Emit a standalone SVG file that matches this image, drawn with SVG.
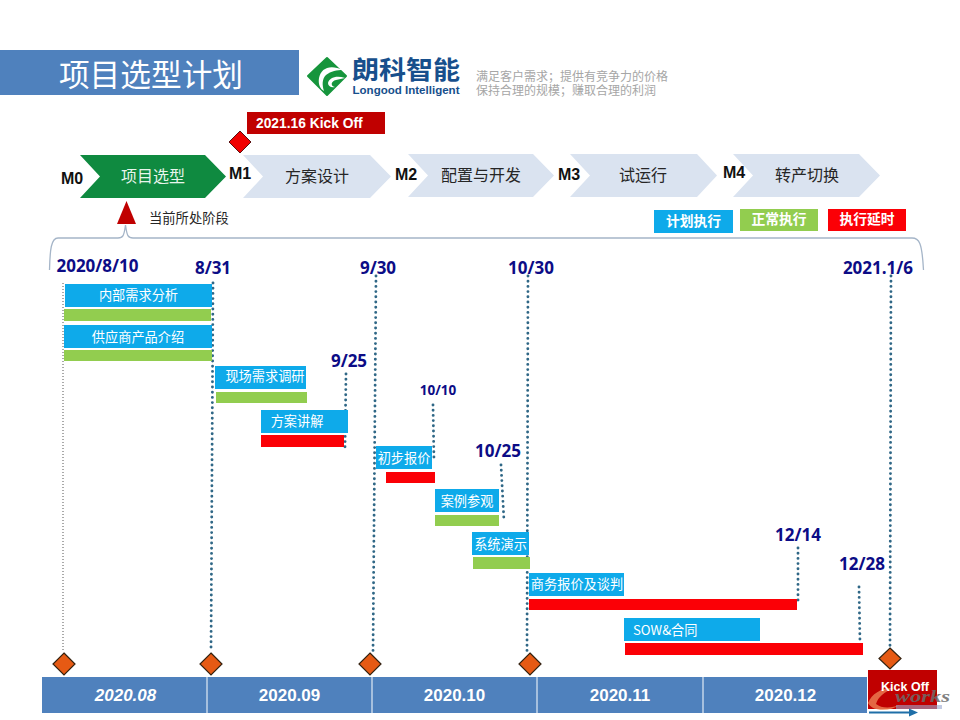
<svg xmlns="http://www.w3.org/2000/svg" width="960" height="720" viewBox="0 0 960 720">
<style>
text{font-family:"Liberation Sans","Noto Sans CJK SC",sans-serif}
.cn{font-family:"Noto Sans CJK SC","Liberation Sans",sans-serif}
.chev{fill:#dae3f0}
.ct{font-size:16px;fill:#262626;text-anchor:middle}
.m{font-size:16px;font-weight:700;fill:#111;text-anchor:middle}
.date{font-family:"Open Sans","Liberation Sans",sans-serif;font-weight:700;font-size:17px;fill:#0c0c86;text-anchor:middle}
.blue{fill:#0eaaea}
.green{fill:#92cd4f}
.red{fill:#fb0006}
.lbl{font-size:13.200px;fill:#fff;text-anchor:middle}
.dot{fill:none;stroke:#2f6786;stroke-width:2.900;stroke-linecap:round;stroke-dasharray:0 5.200}
.dia{fill:#e65a14;stroke:#33210f;stroke-width:1.200}
.mon{fill:#4f81bd}
.mt{font-size:17px;font-weight:700;fill:#fff;text-anchor:middle}
.leg{font-size:13.800px;font-weight:700;fill:#fff;text-anchor:middle}
</style>
<g id="header">
<rect x="0" y="50" width="299" height="45" fill="#4f81bd"/>
<text class="cn" x="151" y="86" font-size="30.700" fill="#fff" text-anchor="middle">项目选型计划</text>
</g>
<g id="logo">
<path d="M327 58L346 76L327 95L308 76Z" fill="#16953c" stroke="#16953c" stroke-width="2" stroke-linejoin="round"/>
<path d="M343 70C330 64 321 68 319 78C318 84 320 89 324 91C322 85 322 79 326 75C331 71 337 70 343 70ZM345 78C336 75 329 78 328 83C328 86 331 88 335 87C330 86 331 81 336 80C339 79 342 79 345 78Z" fill="#fff"/>
<text x="352" y="79" font-size="25" font-weight="700" fill="#174f8c" textLength="108" lengthAdjust="spacingAndGlyphs">朗科智能</text>
<text x="352.500" y="94" font-size="11.500" font-weight="700" fill="#174f8c" textLength="107" lengthAdjust="spacingAndGlyphs">Longood Intelligent</text>
</g>
<g id="slogan">
<text x="476" y="81" font-size="12" fill="#a6a6a6">满足客户需求；提供有竞争力的价格</text>
<text x="476" y="95" font-size="12" fill="#a6a6a6">保持合理的规模；赚取合理的利润</text>
</g>
<g id="kickoff-flag">
<rect x="247" y="112" width="138" height="22" fill="#c00000"/>
<text x="256" y="128" font-size="13.800" font-weight="700" fill="#fff">2021.16 Kick Off</text>
<path d="M240 131L251 142L240 153L229 142Z" fill="#f00000" stroke="#5a1010" stroke-width="1"/>
</g>
<g id="phase-m0">
<path d="M80 155H205L226 176.500L205 198H80L100 176.500Z" fill="#0f8a40"/>
<text class="cn" x="153" y="182" font-size="16" fill="#e8f5ec" text-anchor="middle">项目选型</text>
<text class="m" x="72" y="184">M0</text>
</g>
<g id="phase-m1">
<path class="chev" d="M243 155H370L391 176.500L370 198H243L263 176.500Z"/>
<text class="ct cn" x="317" y="182">方案设计</text>
<text class="m" x="240" y="179">M1</text>
</g>
<g id="phase-m2">
<path class="chev" d="M408 154H533L554 175.500L533 197H408L428 175.500Z"/>
<text class="ct cn" x="481" y="181">配置与开发</text>
<text class="m" x="406" y="180">M2</text>
</g>
<g id="phase-m3">
<path class="chev" d="M570 154H697L717 175.500L697 197H570L590 175.500Z"/>
<text class="ct cn" x="643" y="181">试运行</text>
<text class="m" x="569" y="180">M3</text>
</g>
<g id="phase-m4">
<path class="chev" d="M733 154H859L880 175.500L859 197H733L753 175.500Z"/>
<text class="ct cn" x="807" y="181">转产切换</text>
<text class="m" x="734" y="178">M4</text>
</g>
<g id="current-stage">
<path d="M126.500 201L136 224H117Z" fill="#c00000"/>
<text class="cn" x="149" y="223" font-size="13.300" fill="#262626">当前所处阶段</text>
</g>
<g id="legend">
<rect x="654" y="210" width="79" height="23" class="blue"/>
<text class="leg cn" x="693.500" y="226">计划执行</text>
<rect x="740" y="209" width="78" height="22" class="green"/>
<text class="leg cn" x="779" y="224">正常执行</text>
<rect x="828" y="209" width="78" height="22" class="red"/>
<text class="leg cn" x="867" y="224">执行延时</text>
</g>
<g id="connectors" fill="none">
<path d="M49.500 270C50 250 51 238 58 238H118C123 238 124 236 125.500 225C127 236 128 238 133 238H912C919 238 922 242 923.500 270" stroke="#a5b5c8" stroke-width="1.300"/>
<path d="M63 283V652" stroke="#555" stroke-width="1" stroke-dasharray="1 2"/>
<path class="dot" d="M213 283L211 652"/>
<path class="dot" d="M376 276L373 652"/>
<path class="dot" d="M528 276L527 652"/>
<path class="dot" d="M891 276L890 646"/>
<path class="dot" d="M346 374L345 447"/>
<path class="dot" d="M433 405L434 461"/>
<path class="dot" d="M501 465L504 521"/>
<path class="dot" d="M798 548L798 603"/>
<path class="dot" d="M859 587L860 643"/>
</g>
<g id="dates">
<text class="date" x="97.500" y="272">2020/8/10</text>
<text class="date" x="213" y="274">8/31</text>
<text class="date" x="378" y="274">9/30</text>
<text class="date" x="531" y="274">10/30</text>
<text class="date" x="878" y="274">2021.1/6</text>
<text class="date" x="349" y="367">9/25</text>
<text class="date" x="438" y="395" style="font-size:13.500px">10/10</text>
<text class="date" x="498" y="457">10/25</text>
<text class="date" x="798" y="541">12/14</text>
<text class="date" x="862" y="570">12/28</text>
</g>
<g id="task-1">
<rect x="65" y="284" width="147" height="23" class="blue"/>
<text class="lbl cn" x="138.500" y="300">内部需求分析</text>
<rect x="64" y="309" width="147" height="12" class="green"/>
</g>
<g id="task-2">
<rect x="64" y="325" width="148" height="23" class="blue"/>
<text class="lbl cn" x="138" y="342">供应商产品介绍</text>
<rect x="64" y="350" width="148" height="11" class="green"/>
</g>
<g id="task-3">
<rect x="215" y="366" width="91" height="23" class="blue"/>
<text class="lbl cn" x="265" y="381">现场需求调研</text>
<rect x="216" y="392" width="91" height="11" class="green"/>
</g>
<g id="task-4">
<rect x="261" y="410" width="87" height="23" class="blue"/>
<text class="lbl cn" x="297" y="426">方案讲解</text>
<rect x="261" y="435" width="83" height="12" class="red"/>
</g>
<g id="task-5">
<rect x="376" y="446" width="56" height="23" class="blue"/>
<text class="lbl cn" x="404" y="463">初步报价</text>
<rect x="386" y="472" width="49" height="11" class="red"/>
</g>
<g id="task-6">
<rect x="435" y="489" width="64" height="23" class="blue"/>
<text class="lbl cn" x="467" y="506">案例参观</text>
<rect x="435" y="515" width="64" height="11" class="green"/>
</g>
<g id="task-7">
<rect x="472" y="532" width="57" height="23" class="blue"/>
<text class="lbl cn" x="500.500" y="549">系统演示</text>
<rect x="473" y="557" width="57" height="12" class="green"/>
</g>
<g id="task-8">
<rect x="529" y="573" width="95" height="23" class="blue"/>
<text class="lbl cn" x="577" y="589">商务报价及谈判</text>
<rect x="529" y="599" width="268" height="11" class="red"/>
</g>
<g id="task-9">
<rect x="624" y="618" width="136" height="23" class="blue"/>
<text class="lbl cn" x="633" y="635" style="text-anchor:start">SOW&amp;合同</text>
<rect x="625" y="643" width="238" height="12" class="red"/>
</g>
<g id="milestones">
<path class="dia" d="M64 653L75 664L64 675L53 664Z"/>
<path class="dia" d="M211 653L222 664L211 675L200 664Z"/>
<path class="dia" d="M370 653L381 664L370 675L359 664Z"/>
<path class="dia" d="M530 653L541 664L530 675L519 664Z"/>
<path class="dia" d="M890 648L901 658.500L890 669L879 658.500Z"/>
</g>
<g id="timeline">
<rect class="mon" x="42" y="677" width="164.500" height="36"/>
<rect class="mon" x="207.500" y="677" width="164" height="36"/>
<rect class="mon" x="372.500" y="677" width="164" height="36"/>
<rect class="mon" x="537.500" y="677" width="165" height="36"/>
<rect class="mon" x="703.500" y="677" width="163.500" height="36"/>
<text class="mt" x="125.500" y="701" font-style="italic">2020.08</text>
<text class="mt" x="289.500" y="701">2020.09</text>
<text class="mt" x="454.500" y="701">2020.10</text>
<text class="mt" x="620" y="701">2020.11</text>
<text class="mt" x="785.500" y="701">2020.12</text>
</g>
<g id="kickoff-end">
<rect x="868" y="670" width="69" height="39" fill="#c00000"/>
</g>
<g id="watermark">
<path d="M868 703C872 694 880 688 894 688C884 692 878 697 876 704C882 709 892 708 900 705C890 711 874 713 868 703Z" fill="#f08a5a" opacity=".75"/>
<rect x="896" y="705" width="46" height="4" fill="#9aa6cf" opacity=".6"/>
<text x="895" y="702" font-size="17" font-style="italic" font-weight="700" fill="#6b6b6b" opacity=".85" style="font-family:'Liberation Serif',serif" textLength="55" lengthAdjust="spacingAndGlyphs">works</text>
<path d="M869 712.500H910" stroke="#1f6fa8" stroke-width="2"/>
<path d="M909 708.500L918 712.500L909 716.500Z" fill="#1f6fa8"/>
</g>
<text x="905" y="691" font-size="12.500" font-weight="700" fill="#fff" text-anchor="middle">Kick Off</text>
</svg>
